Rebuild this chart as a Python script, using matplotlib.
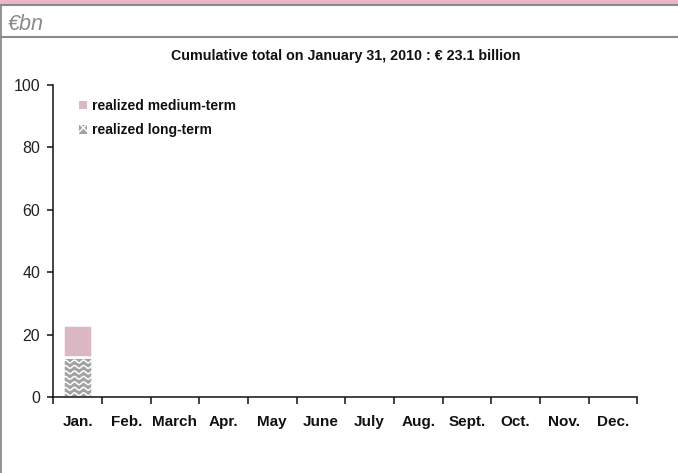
import numpy as np
import matplotlib
matplotlib.use("Agg")
import matplotlib.pyplot as plt
from matplotlib.patches import Rectangle, Patch
from matplotlib.lines import Line2D

# --- data -------------------------------------------------------------
months = ["Jan.", "Feb.", "March", "Apr.", "May", "June",
          "July", "Aug.", "Sept.", "Oct.", "Nov.", "Dec."]
long_term = [12.9] + [np.nan] * 11      # realized long-term (EUR bn)
medium_term = [10.2] + [np.nan] * 11    # realized medium-term (EUR bn)
y_ticks = [0, 20, 40, 60, 80, 100]
unit_label = "€bn"
title = "Cumulative total on January 31, 2010 : € 23.1 billion"
labels = ["realized medium-term", "realized long-term"]

NARROW = ["Liberation Sans Narrow", "Liberation Sans", "DejaVu Sans"]
REGULAR = ["Liberation Sans", "DejaVu Sans"]

PINK_BAND = "#ebb6c8"
PINK = "#dbb8c4"
GRAY = "#a2a2a2"
RULE = "#8a8a8a"

W, H = 678, 473
fig = plt.figure(figsize=(W / 100, H / 100), dpi=100)
fig.patch.set_facecolor("white")

def fy(px):
    return 1 - px / H

def fx(px):
    return px / W

# page frame: pink band, rules and left border
fig.add_artist(Rectangle((0, fy(4.5)), 1, 4.5 / H, transform=fig.transFigure,
                         facecolor=PINK_BAND, edgecolor="none"))
fig.add_artist(Line2D([0, 1], [fy(5.5), fy(5.5)], transform=fig.transFigure,
                      color=RULE, lw=1.5))
fig.add_artist(Line2D([0, 1], [fy(36.7), fy(36.7)], transform=fig.transFigure,
                      color=RULE, lw=1.5))
fig.add_artist(Line2D([fx(0.8), fx(0.8)], [0, fy(5)], transform=fig.transFigure,
                      color=RULE, lw=1.3))

fig.text(fx(8), fy(30), unit_label, ha="left", va="baseline", fontsize=15.5,
         style="italic", color="#8a8a8a", family=REGULAR)
fig.text(fx(346), fy(60), title, ha="center", va="baseline", fontsize=10.3,
         fontweight="bold", color="#111111", family=NARROW)

# --- axes ---------------------------------------------------------------
ax = fig.add_axes([fx(53.3), fy(397), fx(637.3) - fx(53.3), fy(85) - fy(397)])
ax.set_facecolor("none")
x = np.arange(len(months))
bw = 0.6
lt_bars = ax.bar(x, long_term, width=bw, color=GRAY, edgecolor="white",
                 linewidth=1.8, zorder=2)
mt_bars = ax.bar(x, medium_term, width=bw, bottom=long_term, color=PINK,
                 edgecolor="white", linewidth=1.8, zorder=2)

# wavy white pattern on the long-term bars
for rect, h in zip(lt_bars.patches, long_term):
    if not np.isfinite(h) or h <= 0:
        continue
    x0, w = rect.get_x(), rect.get_width()
    xs = np.linspace(x0, x0 + w, 200)
    period = w / 3.2
    for base in np.arange(0.9, h + 1.0, 1.75):
        ys = base + 0.45 * np.sin(2 * np.pi * (xs - x0) / period)
        ln, = ax.plot(xs, ys, color="white", lw=1.1, zorder=3,
                      solid_capstyle="butt")
        ln.set_clip_path(rect)

ax.set_xlim(-0.5, len(months) - 0.5)
ax.set_ylim(0, 100)
for s in ("top", "right"):
    ax.spines[s].set_visible(False)
for s in ("left", "bottom"):
    ax.spines[s].set_linewidth(1.1)
    ax.spines[s].set_color("#111111")
    ax.spines[s].set_zorder(4)

ax.set_yticks(y_ticks)
ax.set_yticklabels([str(v) for v in y_ticks], family=REGULAR, fontsize=11.5,
                   color="#222222")
ax.tick_params(axis="y", direction="out", length=4.5, width=1.1, pad=5,
               color="#111111")

ax.set_xticks(np.arange(-0.5, len(months), 1))
ax.set_xticklabels([])
ax.tick_params(axis="x", which="major", direction="out", length=5, width=1.1,
               color="#111111")
ax.set_xticks(x, minor=True)
ax.set_xticklabels(months, minor=True, family=NARROW, fontsize=11,
                   fontweight="bold", color="#111111")
ax.tick_params(axis="x", which="minor", length=0, pad=13)

handles = [Patch(facecolor=PINK, edgecolor="none"),
           Patch(facecolor=GRAY, edgecolor="white", hatch="xxx", lw=0)]
leg = ax.legend(handles, labels, loc="upper left",
                bbox_to_anchor=(fx(79), fy(99)), bbox_transform=fig.transFigure,
                frameon=False, handlelength=0.55, handleheight=0.55,
                handletextpad=0.4, labelspacing=0.75, borderaxespad=0,
                borderpad=0, prop={"family": NARROW, "size": 10, "weight": "bold"})
for t in leg.get_texts():
    t.set_color("#111111")

fig.savefig("out.png", dpi=100, facecolor="white")
